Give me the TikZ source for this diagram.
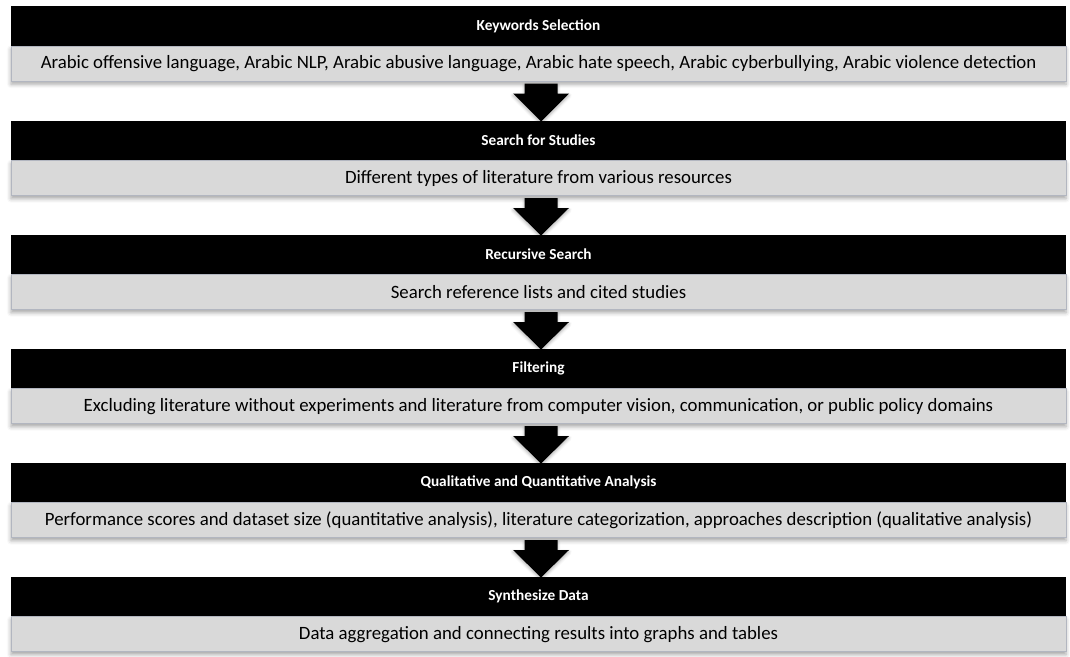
\documentclass[tikz,border=0pt]{standalone}
\usepackage{fontspec}
\setmainfont{Carlito}
\usetikzlibrary{calc,shadows.blur}

\definecolor{bodygray}{RGB}{217,217,217}
\definecolor{edgegray}{RGB}{178,182,192}

\tikzset{
	stagehead/.style={
		rectangle, fill=black, text=white, anchor=north,
		minimum width=1055pt, minimum height=39.5pt, inner sep=0pt,
		font=\bfseries\fontsize{15.3}{17}\selectfont},
	stagebody/.style={
		rectangle, fill=bodygray, draw=edgegray, line width=0.6pt, anchor=north,
		minimum width=1055pt, minimum height=35pt, inner sep=0pt,
		font=\fontsize{18.8}{21}\selectfont,
		blur shadow={shadow xshift=0pt, shadow yshift=-3pt,
			shadow blur radius=4pt, shadow opacity=35}},
	blkarrow/.style={
		fill=black,
		blur shadow={shadow xshift=0pt, shadow yshift=-2pt,
			shadow blur radius=3pt, shadow opacity=30}}
}

% block arrow from the bottom of one stage to the top of the next
\newcommand{\stagearrow}[2]{
	\fill[blkarrow] ($(#1.south)+(-14,2)$) -- ($(#1.south)+(19,2)$)
		-- ($(#1.south)+(19,12)$) -- ($(#1.south)+(30.5,12)$)
		-- ($(#2.north)+(2.5,1)$)
		-- ($(#1.south)+(-25.5,12)$) -- ($(#1.south)+(-14,12)$) -- cycle;
}

\begin{document}
\begin{tikzpicture}[x=1pt, y=-1pt]
	\useasboundingbox (0,0) rectangle (1070,656);

	\node[stagehead] (h1) at (538.5,6) {Keywords Selection};
	\node[stagebody] (b1) at (h1.south) {Arabic offensive language, Arabic NLP, Arabic abusive language, Arabic hate speech, Arabic cyberbullying, Arabic violence detection};

	\node[stagehead] (h2) at (538.5,120.5) {Search for Studies};
	\node[stagebody] (b2) at (h2.south) {Different types of literature from various resources};

	\node[stagehead] (h3) at (538.5,234.5) {Recursive Search};
	\node[stagebody] (b3) at (h3.south) {Search reference lists and cited studies};

	\node[stagehead] (h4) at (538.5,348.5) {Filtering};
	\node[stagebody] (b4) at (h4.south) {Excluding literature without experiments and literature from computer vision, communication, or public policy domains};

	\node[stagehead] (h5) at (538.5,462.5) {Qualitative and Quantitative Analysis};
	\node[stagebody] (b5) at (h5.south) {Performance scores and dataset size (quantitative analysis), literature categorization, approaches description (qualitative analysis)};

	\node[stagehead] (h6) at (538.5,576.5) {Synthesize Data};
	\node[stagebody] (b6) at (h6.south) {Data aggregation and connecting results into graphs and tables};

	\stagearrow{b1}{h2}
	\stagearrow{b2}{h3}
	\stagearrow{b3}{h4}
	\stagearrow{b4}{h5}
	\stagearrow{b5}{h6}

\end{tikzpicture}
\end{document}
